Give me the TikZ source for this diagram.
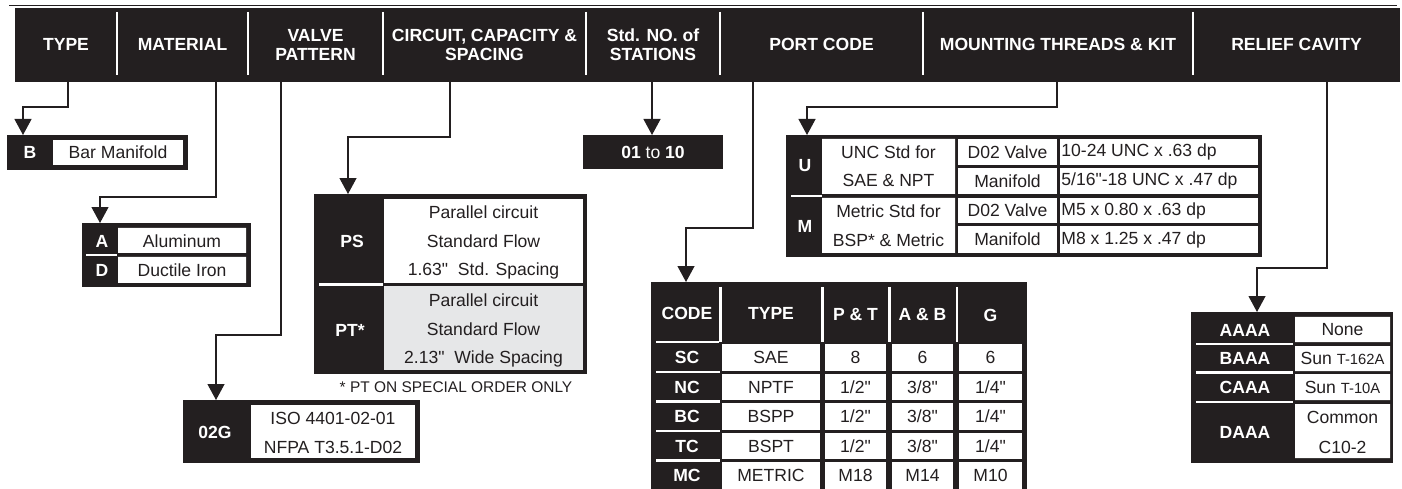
\documentclass[tikz,border=0pt]{standalone}
\usepackage{fontspec}
\setmainfont{Liberation Sans}[Ligatures=TeXOff]
\usetikzlibrary{arrows.meta}
\definecolor{ink}{HTML}{231F20}
\definecolor{cellgray}{HTML}{E6E7E8}

\begin{document}
\begin{tikzpicture}[x=0.02cm,y=-0.02cm,text=ink,>={Triangle[length=0.32cm,width=0.34cm]},
  hdr/.style={text=white,font=\bfseries\fontsize{10}{10.6}\selectfont,align=center,inner sep=0pt},
  code/.style={text=white,font=\bfseries,inner sep=0pt},
  val/.style={inner sep=0pt},
  link/.style={draw=ink,line width=0.7pt,->},
  gap/.style={white,line width=1.2pt}]
  \useasboundingbox (0,0) rectangle (1402,489);

  % header bar
  \draw[ink,line width=0.6pt] (9,5.5)--(1397,5.5);
  \fill[ink] (15,8) rectangle (1400,82);
  \foreach \x in {117,248,383,586,720,923,1193}
    \draw[white,line width=1.5pt] (\x,12)--(\x,75);
  \node[hdr] (hType) at (66,44) {TYPE};
  \node[hdr] (hMat) at (182.5,44) {MATERIAL};
  \node[hdr] (hValve) at (315.5,45) {VALVE\\PATTERN};
  \node[hdr] (hCirc) at (484.5,45) {CIRCUIT, CAPACITY \&\\SPACING};
  \node[hdr] (hStat) at (653,45) {Std. NO. of\\STATIONS};
  \node[hdr] (hPort) at (821.5,44) {PORT CODE};
  \node[hdr] (hMount) at (1058,44) {MOUNTING THREADS \& KIT};
  \node[hdr] (hRelief) at (1296.5,44) {RELIEF CAVITY};
  \foreach \n/\x in {Type/68,Mat/216,Valve/281,Circ/450,Stat/652,Port/753,Mount/1057,Relief/1327}
    \coordinate (p\n) at (\x,82);

  % type
  \fill[ink] (7,135) rectangle (188,170);
  \fill[white] (53,140) rectangle (183,165);
  \node[code] (cB) at (30,152.5) {B};
  \node[val] (vB) at (118,152.5) {Bar Manifold};
  \coordinate (tType) at (23,135);

  % material
  \fill[ink] (82,223) rectangle (251,287);
  \fill[white] (118,228) rectangle (246,253) (118,257) rectangle (246,283);
  \draw[gap] (86,255)--(117,255);
  \node[code] (cA) at (102,241) {A};
  \node[val] (vA) at (182,241) {Aluminum};
  \node[code] (cD) at (102,270) {D};
  \node[val] (vD) at (182,270) {Ductile Iron};
  \coordinate (tMat) at (100,223);

  % circuit
  \fill[ink] (314,194) rectangle (587,374);
  \fill[white] (384,199) rectangle (583,283);
  \fill[cellgray] (384,286) rectangle (583,370);
  \draw[gap] (319,284.5)--(383,284.5);
  \node[code] (cPS) at (352,241) {PS};
  \node[code] (cPT) at (350,330) {PT*};
  \foreach \t [count=\i] in {Parallel circuit,Standard Flow,{1.63"\ \ Std. Spacing}}
    \node[val] (ps\i) at (483.5,{182.5+29.5*\i}) {\t};
  \foreach \t [count=\i] in {Parallel circuit,Standard Flow,{2.13"\ \ Wide Spacing}}
    \node[val] (pt\i) at (483.5,{270.5+29.5*\i}) {\t};
  \node[val,font=\fontsize{8.8}{10}\selectfont] (note) at (456,387.5) {* PT ON SPECIAL ORDER ONLY};
  \coordinate (tCirc) at (348,194);

  % valve pattern
  \fill[ink] (183,400) rectangle (420,463);
  \fill[white] (251,405) rectangle (415,458);
  \node[code] (c02G) at (215,432) {02G};
  \node[val] (iso) at (333,418) {ISO 4401-02-01};
  \node[val] (nfpa) at (333,447) {NFPA T3.5.1-D02};
  \coordinate (tValve) at (216,400);

  % stations
  \fill[ink] (583,135) rectangle (723,169);
  \node[code,font=\normalfont] (cStat) at (653,152.5) {\textbf{01} to \textbf{10}};
  \coordinate (tStat) at (652,135);

  % mounting threads
  \fill[ink] (786,135) rectangle (1262,257);
  \fill[white] (822,139) rectangle (955,194) (822,198) rectangle (955,253);
  \foreach \t/\b in {139/165,168/194,198/223,226/253}{
    \fill[white] (958,\t) rectangle (1057,\b);
    \fill[white] (1060,\t) rectangle (1258,\b);
  }
  \draw[gap] (791,196)--(822,196);
  \node[code] (cU) at (805,166) {U};
  \node[code] (cM) at (805,226) {M};
  \foreach \t/\y [count=\i] in {UNC Std for/152,SAE \& NPT/180,Metric Std for/211.5,BSP* \& Metric/240}
    \node[val] (std\i) at (888.5,\y) {\t};
  \foreach \t/\u/\y [count=\i] in {D02 Valve/10-24 UNC x .63 dp/152,Manifold/{5/16"-18 UNC x .47 dp}/181,D02 Valve/M5 x 0.80 x .63 dp/210.5,Manifold/M8 x 1.25 x .47 dp/239.5}{
    \node[val] (part\i) at (1007.5,\y) {\t};
    \node[val,anchor=west] (thr\i) at (1061,\y) {\u};
  }
  \coordinate (tMount) at (807,135);

  % port code
  \fill[ink] (651,282) rectangle (1027,489);
  \foreach \x in {720.5,822.5,889.5,957}
    \draw[gap] (\x,287)--(\x,342);
  \draw[gap] (656,342)--(719,342);
  \node[code] (pcCode) at (687,313) {CODE};
  \node[code] (pcType) at (771,313) {TYPE};
  \node[code] (pcPT) at (855.5,315) {P \& T};
  \node[code] (pcAB) at (922.5,315) {A \& B};
  \node[code] (pcG) at (990.5,315) {G};
  \foreach \c/\t/\p/\a/\g [count=\i] in {SC/SAE/8/6/6,NC/NPTF/{1/2"}/{3/8"}/{1/4"},BC/BSPP/{1/2"}/{3/8"}/{1/4"},TC/BSPT/{1/2"}/{3/8"}/{1/4"},MC/METRIC/M18/M14/M10}{
    \pgfmathsetmacro{\rowtop}{344+29.5*(\i-1)}
    \pgfmathsetmacro{\ry}{\rowtop+13.5}
    \foreach \l/\r in {722/820,825/886,892/953,959/1022}
      \fill[white] (\l,\rowtop) rectangle (\r,\rowtop+26.5);
    \ifnum\i>1 \draw[gap] (656,\rowtop-1.5)--(720,\rowtop-1.5); \fi
    \node[code] (pcC\i) at (687,\ry) {\c};
    \node[val] (pcT\i) at (771,\ry) {\t};
    \node[val] (pcP\i) at (855.5,\ry) {\p};
    \node[val] (pcA\i) at (922.5,\ry) {\a};
    \node[val] (pcG\i) at (990.5,\ry) {\g};
  }
  \coordinate (tPort) at (686,282);

  % relief cavity
  \fill[ink] (1191,312) rectangle (1393,463);
  \fill[white] (1295,317) rectangle (1390,342) (1295,346) rectangle (1390,371)
    (1295,374) rectangle (1390,400) (1295,404) rectangle (1390,458);
  \foreach \y in {344,372.5,402}
    \draw[gap] (1196,\y)--(1293,\y);
  \node[code] (rcA) at (1245,330) {AAAA};
  \node[code] (rcB) at (1245,358.5) {BAAA};
  \node[code] (rcC) at (1245,387) {CAAA};
  \node[code] (rcD) at (1245,432) {DAAA};
  \node[val] (rvA) at (1342.5,330) {None};
  \node[val] (rvB) at (1342.5,358.5) {Sun {\fontsize{8.4}{10}\selectfont T-162A}};
  \node[val] (rvC) at (1342.5,387) {Sun {\fontsize{8.4}{10}\selectfont T-10A}};
  \node[val] (rvD1) at (1342.5,417) {Common};
  \node[val] (rvD2) at (1342.5,447) {C10-2};
  \coordinate (tRelief) at (1257,312);

  % connectors
  \draw[link] (pType)--++(0,25) -| (tType);
  \draw[link] (pMat)--++(0,115) -| (tMat);
  \draw[link] (pValve)--++(0,253) -| (tValve);
  \draw[link] (pCirc)--++(0,55) -| (tCirc);
  \draw[link] (pStat)--(tStat);
  \draw[link] (pPort)--++(0,146) -| (tPort);
  \draw[link] (pMount)--++(0,25) -| (tMount);
  \draw[link] (pRelief)--++(0,186) -| (tRelief);
\end{tikzpicture}
\end{document}
